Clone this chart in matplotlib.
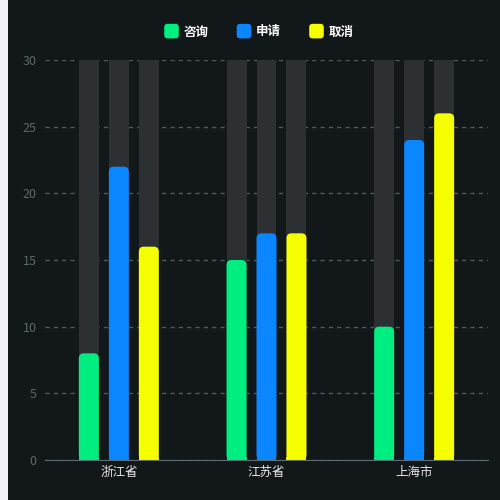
import matplotlib
matplotlib.use("Agg")
import matplotlib.pyplot as plt
import numpy as np
from matplotlib.patches import FancyBboxPatch, Rectangle
from matplotlib.legend_handler import HandlerPatch

plt.rcParams['font.family'] = ['Noto Sans CJK SC', 'DejaVu Sans']

categories = ['浙江省', '江苏省', '上海市']
series_names = ['咨询', '申请', '取消']
consult = [8, 15, 10]
apply_ = [22, 17, 24]
cancel = [16, 17, 26]
max_value = 30
colors = ['#00ED80', '#0A86FF', '#F5FF00']

fig = plt.figure(figsize=(5, 5), dpi=100)
fig.patch.set_facecolor('#12171a')
fig.patches.append(Rectangle((0, 0), 8/500, 1, transform=fig.transFigure,
                             facecolor='#f1f2f7', edgecolor='none', zorder=-10))

ax = fig.add_axes([45/500, 40/500, 443/500, 400/500])
ax.set_facecolor('#12171a')

x = np.arange(len(categories))
width = 20/147.7
step = 30/147.7
offsets = [-step, 0, step]
ax.set_xlim(-0.5, 2.5)
ax.set_ylim(0, 30)

# background bars
for off in offsets:
    ax.bar(x + off, [max_value]*len(x), width=width, color='#2c3033', zorder=1)

rx = 5/147.7
ry = 5*30/400
for vals, off, c in zip([consult, apply_, cancel], offsets, colors):
    for xi, v in zip(x, vals):
        p = FancyBboxPatch((xi + off - width/2, 0), width, v,
                           boxstyle=f"round,pad=0,rounding_size={rx}",
                           mutation_aspect=ry/rx, facecolor=c, edgecolor='none', zorder=2)
        ax.add_patch(p)
        ax.add_patch(Rectangle((xi + off - width/2, 0), width, min(v, 0.2), facecolor=c,
                               edgecolor='none', zorder=2))

ax.set_yticks(np.arange(0, 31, 5))
ax.yaxis.grid(True, linestyle=(0, (3, 3)), color='#4d5a5e', linewidth=1)
ax.set_axisbelow(True)
ax.tick_params(axis='y', length=0, colors='#5b686d', labelsize=9, pad=6)
ax.set_xticks(x)
ax.set_xticklabels(categories)
ax.tick_params(axis='x', length=0, colors='#e6e6e6', labelsize=9, pad=4)
for s in ['top', 'right', 'left']:
    ax.spines[s].set_visible(False)
ax.spines['bottom'].set_color('#5d6c72')
ax.spines['bottom'].set_zorder(3)

class RoundHandler(HandlerPatch):
    def create_artists(self, legend, orig_handle, xdescent, ydescent, width, height, fontsize, trans):
        s = 10.5
        p = FancyBboxPatch((width/2 - s/2 - xdescent, height/2 - s/2 - ydescent), s, s,
                           boxstyle="round,pad=0,rounding_size=2.5",
                           facecolor=orig_handle.get_facecolor(), edgecolor='none',
                           transform=trans)
        return [p]

handles = [Rectangle((0, 0), 1, 1, facecolor=c) for c in colors]
leg = fig.legend(handles, series_names, loc='center', bbox_to_anchor=(259/500, 1 - 32/500),
                 ncol=3, frameon=False, handler_map={Rectangle: RoundHandler()},
                 handlelength=1.15, handletextpad=0.4, columnspacing=2.25,
                 prop={'size': 9, 'weight': 'bold'})
for t in leg.get_texts():
    t.set_color('#ffffff')

fig.savefig('out.png', dpi=100, facecolor=fig.get_facecolor())
